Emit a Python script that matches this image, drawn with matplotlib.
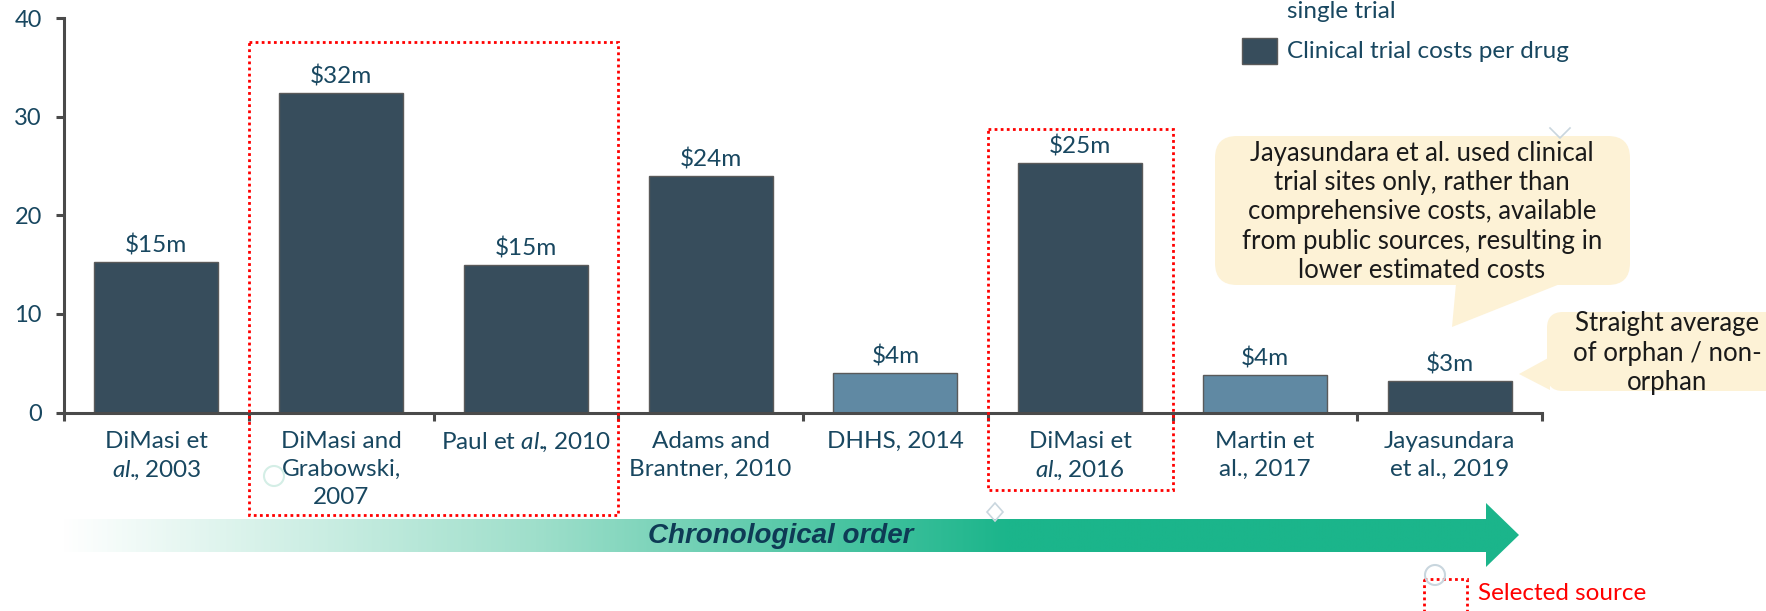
import numpy as np
import matplotlib
matplotlib.use("Agg")
import matplotlib.pyplot as plt
from matplotlib.patches import Rectangle, FancyBboxPatch, Polygon, Circle
from matplotlib.colors import LinearSegmentedColormap

plt.rcParams["font.family"] = ["Lato", "DejaVu Sans"]
plt.rcParams["mathtext.fontset"] = "custom"
plt.rcParams["mathtext.rm"] = "Lato"
plt.rcParams["mathtext.it"] = "Lato:italic"

# data
sources = [
    "DiMasi et\n$\\mathit{al.}\\!\\!$, 2003",
    "DiMasi and\nGrabowski,\n2007",
    "Paul et $\\mathit{al.}\\!\\!$, 2010",
    "Adams and\nBrantner, 2010",
    "DHHS, 2014",
    "DiMasi et\n$\\mathit{al.}\\!\\!$, 2016",
    "Martin et\nal., 2017",
    "Jayasundara\net al., 2019",
]
costs = [15.3, 32.4, 15.0, 24.0, 4.0, 25.3, 3.8, 3.2]
cost_labels = ["$15m", "$32m", "$15m", "$24m", "$4m", "$25m", "$4m", "$3m"]
per_single_trial = [False, False, False, False, True, False, True, False]

DARK = "#374d5c"
LIGHT = "#6089a3"
TXT = "#184760"
SPINE = "#4a4a4a"
BEIGE = "#fdf2d6"
GREEN = "#1bb58b"

W, H = 1766, 611
fig = plt.figure(figsize=(W / 100, H / 100), dpi=100)

x0, x1, y0, y40 = 64, 1542, 412.5, 18
ax = fig.add_axes([x0 / W, (H - y0) / H, (x1 - x0) / W, (y0 - y40) / H])
xs = np.arange(len(costs))
colors = [LIGHT if s else DARK for s in per_single_trial]
bars = ax.bar(xs, costs, width=0.67, color=colors, edgecolor="#5a5a5a", linewidth=1, zorder=2)
for b, lab in zip(bars, cost_labels):
    ax.annotate(lab.replace("$", r"\$"), (b.get_x() + b.get_width() / 2, b.get_height()),
                xytext=(0, 4), textcoords="offset points", ha="center", va="bottom",
                fontsize=17.5, color=TXT)

ax.set_xlim(-0.5, len(costs) - 0.5)
ax.set_ylim(0, 40)
ax.set_yticks(range(0, 41, 10))
ax.set_xticks(np.arange(-0.5, len(costs)), [""] * (len(costs) + 1))
ax.set_xticks(xs, sources, minor=True)
ax.tick_params(axis="y", labelsize=17, labelcolor=TXT, color=SPINE, width=2.2, length=6, pad=10)
ax.tick_params(axis="x", which="major", color=SPINE, width=2.2, length=6)
ax.tick_params(axis="x", which="minor", length=0, labelsize=17.5, labelcolor=TXT, pad=13)
for t in ax.get_xticklabels(minor=True):
    t.set_linespacing(1.42)
for s in ["top", "right"]:
    ax.spines[s].set_visible(False)
for s in ["left", "bottom"]:
    ax.spines[s].set_color(SPINE)
    ax.spines[s].set_linewidth(2.2)
ax.patch.set_alpha(0)

# overlay in pixel coordinates for the annotations
ov = fig.add_axes([0, 0, 1, 1], zorder=5)
ov.axis("off")
ov.patch.set_alpha(0)

cat_w = (x1 - x0) / len(costs)
# selected source boxes
for left, right, top, bottom in [(1, 2, 42, 515), (5, 5, 129, 490)]:
    bx0 = x0 + left * cat_w
    bx1 = x0 + (right + 1) * cat_w
    ov.add_patch(Rectangle((bx0, top), bx1 - bx0, bottom - top, fill=False,
                           edgecolor="red", linestyle=(0, (1, 1.2)), linewidth=2))

# chronological arrow with gradient
arrow = Polygon([(60, 519), (1486, 519), (1486, 503), (1519, 535), (1486, 567),
                 (1486, 552), (60, 552)], closed=True, facecolor="none", edgecolor="none")
ov.add_patch(arrow)
grad_x = np.linspace(60, 1519, 600)
grad = np.clip((grad_x - 60) / (1010 - 60), 0, 1)[None, :]
cmap = LinearSegmentedColormap.from_list("g", ["#ffffff", "#9fdfcb", GREEN])
im = ov.imshow(grad, extent=(60, 1519, 567, 503), cmap=cmap, vmin=0, vmax=1,
               aspect="auto", interpolation="bilinear", zorder=1)
im.set_clip_path(arrow)
ov.text(781, 536, "Chronological order", ha="center", va="center", fontsize=20,
        fontweight="bold", fontstyle="italic", color="#0e3a55",
        family=["Liberation Sans", "DejaVu Sans"], zorder=3)
ov.set_xlim(0, W)
ov.set_ylim(H, 0)

# legend
ov.text(1287, 12, "single trial", ha="left", va="center", fontsize=17.5, color=TXT)
ov.add_patch(Rectangle((1241.5, 38), 35, 26, facecolor=DARK, edgecolor="#5a5a5a", linewidth=1))
ov.text(1287, 51, "Clinical trial costs per drug", ha="left", va="center", fontsize=17.5, color=TXT)

ov.add_patch(Rectangle((1424, 579), 43, 40, fill=False, edgecolor="red",
                       linestyle=(0, (1, 1.2)), linewidth=2))
ov.text(1478, 594, "Selected source", ha="left", va="center", fontsize=17.5, color="red")

# callouts
ov.add_patch(FancyBboxPatch((1215, 136), 415, 149, boxstyle="round,pad=0,rounding_size=22",
                            facecolor=BEIGE, edgecolor="none"))
ov.add_patch(Polygon([(1456, 284), (1560, 284), (1452, 327)], facecolor=BEIGE, edgecolor="none"))
ov.text(1422, 212, "Jayasundara et al. used clinical\ntrial sites only, rather than\n"
        "comprehensive costs, available\nfrom public sources, resulting in\nlower estimated costs",
        ha="center", va="center", fontsize=18.5, color="#1a1a1a", linespacing=1.22)

ov.add_patch(FancyBboxPatch((1547, 312), 260, 79, boxstyle="round,pad=0,rounding_size=16",
                            facecolor=BEIGE, edgecolor="none"))
ov.add_patch(Polygon([(1550, 357), (1519, 374), (1550, 390)], facecolor=BEIGE, edgecolor="none"))
ov.text(1667, 353, "Straight average\nof orphan / non-\norphan", ha="center", va="center",
        fontsize=18.5, color="#1a1a1a", linespacing=1.22)

# faint leftover shapes
ov.add_patch(Circle((274, 476), 10, fill=False, edgecolor="#d4eee6", linewidth=1.5))
ov.add_patch(Circle((1435, 575), 10, fill=False, edgecolor="#c9d6de", linewidth=1.5))
ov.add_patch(Polygon([(995, 503), (1003, 512), (995, 521), (987, 512)], closed=True,
                     fill=False, edgecolor="#c9d6de", linewidth=1.2))
ov.plot([1550, 1560, 1570], [128, 138, 128], color="#c9d6de", linewidth=1.2)

fig.savefig("out.png", dpi=100)
